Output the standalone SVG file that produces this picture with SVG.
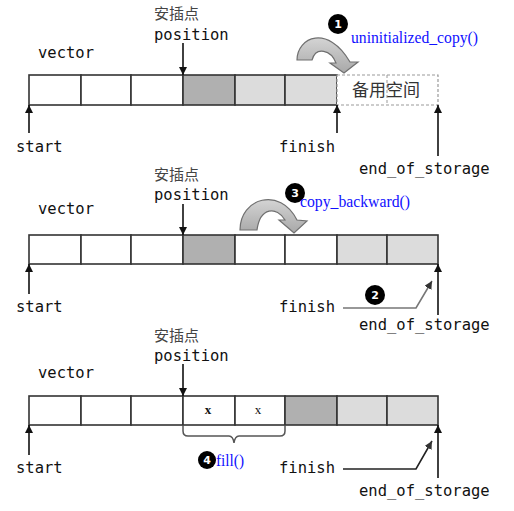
<svg xmlns="http://www.w3.org/2000/svg" width="514" height="511" viewBox="0 0 514 511">
<style>
.cell{stroke:#333;stroke-width:1.6}
.w{fill:#fff}.d{fill:#b0b0b0}.l{fill:#dcdcdc}
.mono{font-family:"DejaVu Sans Mono","Liberation Mono",monospace;font-size:15.5px;fill:#111}
.cjk{font-family:"Noto Sans CJK SC",sans-serif;font-size:15px;fill:#444}
.blue{font-family:"Liberation Serif",serif;font-size:16px;fill:#1010ff}
.ptr{stroke:#111;stroke-width:1.6;fill:none;marker-end:url(#ah)}
.curl{fill:url(#g);stroke:#707070;stroke-width:1.2}
.badge{fill:#000}
.bn{font-family:"DejaVu Sans",sans-serif;font-weight:bold;font-size:11px;fill:#fff;text-anchor:middle}
.x{font-family:"Liberation Serif",serif;font-size:13px;fill:#111;text-anchor:middle}
</style>
<defs>
<marker id="ah" viewBox="0 0 10 10" refX="10" refY="5" markerWidth="8" markerHeight="8" markerUnits="userSpaceOnUse" orient="auto"><path d="M0,0 L10,5 L0,10 z" fill="#111"/></marker>
<marker id="ahg" viewBox="0 0 10 10" refX="10" refY="5" markerWidth="8" markerHeight="8" markerUnits="userSpaceOnUse" orient="auto"><path d="M0,0 L10,5 L0,10 z" fill="#333"/></marker>
<linearGradient id="g" x1="0" y1="0" x2="0" y2="1"><stop offset="0" stop-color="#d4d4d4"/><stop offset="1" stop-color="#a8a8a8"/></linearGradient>
</defs>

<g id="row1">
<rect class="cell w" x="29" y="75" width="52" height="30"/>
<rect class="cell w" x="81" y="75" width="50" height="30"/>
<rect class="cell w" x="131" y="75" width="52" height="30"/>
<rect class="cell d" x="183" y="75" width="52" height="30"/>
<rect class="cell l" x="235" y="75" width="50" height="30"/>
<rect class="cell l" x="285" y="75" width="52" height="30"/>
<rect x="337" y="75" width="101" height="30" fill="#fff" stroke="#999" stroke-width="1.2" stroke-dasharray="3,2"/>
<line x1="387" y1="75" x2="387" y2="105" stroke="#999" stroke-width="1" stroke-dasharray="3,2"/>
<text x="352" y="96" font-family="'Noto Sans CJK SC',sans-serif" font-size="17" fill="#333">备用空间</text>
<text class="mono" x="38" y="58">vector</text>
<text class="cjk" x="154" y="19">安插点</text>
<text class="mono" x="154" y="40">position</text>
<text class="mono" x="16" y="152">start</text>
<text class="mono" x="279" y="152">finish</text>
<text class="mono" x="359" y="174">end_of_storage</text>
</g>

<g id="row2">
<rect class="cell w" x="29" y="235" width="52" height="29"/>
<rect class="cell w" x="81" y="235" width="50" height="29"/>
<rect class="cell w" x="131" y="235" width="52" height="29"/>
<rect class="cell d" x="183" y="235" width="52" height="29"/>
<rect class="cell w" x="235" y="235" width="50" height="29"/>
<rect class="cell w" x="285" y="235" width="52" height="29"/>
<rect class="cell l" x="337" y="235" width="50" height="29"/>
<rect class="cell l" x="387" y="235" width="51" height="29"/>
<text class="mono" x="38" y="214">vector</text>
<text class="cjk" x="154" y="180">安插点</text>
<text class="mono" x="154" y="200">position</text>
<text class="mono" x="16" y="312">start</text>
<text class="mono" x="279" y="312">finish</text>
<text class="mono" x="359" y="330">end_of_storage</text>
</g>

<g id="row3">
<rect class="cell w" x="29" y="396" width="52" height="29"/>
<rect class="cell w" x="81" y="396" width="50" height="29"/>
<rect class="cell w" x="131" y="396" width="52" height="29"/>
<rect class="cell w" x="183" y="396" width="52" height="29"/>
<rect class="cell w" x="235" y="396" width="50" height="29"/>
<rect class="cell d" x="285" y="396" width="52" height="29"/>
<rect class="cell l" x="337" y="396" width="50" height="29"/>
<rect class="cell l" x="387" y="396" width="51" height="29"/>
<text class="x" x="208" y="414" font-weight="bold">x</text>
<text class="x" x="258" y="414" font-size="12">x</text>
<text class="mono" x="38" y="378">vector</text>
<text class="cjk" x="154" y="341">安插点</text>
<text class="mono" x="154" y="361">position</text>
<text class="mono" x="16" y="473">start</text>
<text class="mono" x="279" y="473">finish</text>
<text class="mono" x="359" y="496">end_of_storage</text>
</g>

<g id="step1">
<path class="curl" d="M297 60 C297 37 328 24 350 62 L358 62 L344 73 L330 63 L336 63 C331 50 316 46 312 60 Z"/>
<circle class="badge" cx="338" cy="24" r="10"/>
<text class="bn" x="338" y="28">1</text>
<text class="blue" x="351" y="43" textLength="127" lengthAdjust="spacingAndGlyphs">uninitialized_copy()</text>
</g>

<g id="step3">
<path class="curl" d="M240 230 C240 198 280 186 297 220 L307 221 L294 233 L279 220 L285 220 C277 206 260 207 257 230 Z"/>
<circle class="badge" cx="295" cy="193" r="10"/>
<text class="bn" x="295" y="197">3</text>
<text class="blue" x="300" y="207" textLength="110" lengthAdjust="spacingAndGlyphs">copy_backward()</text>
</g>

<g id="step2">
<circle class="badge" cx="375" cy="295" r="10"/>
<text class="bn" x="375" y="299">2</text>
</g>

<g id="step4">
<path d="M183 425 L183 431 Q183 436 188 436 L229 436 Q233 436 234 443 Q235 436 239 436 L280 436 Q285 436 285 431 L285 425" fill="none" stroke="#555" stroke-width="1.5"/>
<circle class="badge" cx="207" cy="460" r="9"/>
<text class="bn" x="207" y="464">4</text>
<text class="blue" x="216" y="466" textLength="28" lengthAdjust="spacingAndGlyphs">fill()</text>
</g>

<g id="connectors">
<line class="ptr" x1="183" y1="43" x2="183" y2="75"/>
<line class="ptr" x1="29" y1="133" x2="29" y2="105"/>
<line class="ptr" x1="337" y1="133" x2="337" y2="105"/>
<line class="ptr" x1="438" y1="156" x2="438" y2="105"/>

<line class="ptr" x1="183" y1="204" x2="183" y2="235"/>
<line class="ptr" x1="29" y1="294" x2="29" y2="264"/>
<line class="ptr" x1="438" y1="315" x2="438" y2="264"/>
<polyline points="343,308 416,308 432,281" fill="none" stroke="#777" stroke-width="1.6" marker-end="url(#ahg)"/>

<line class="ptr" x1="183" y1="364" x2="183" y2="396"/>
<line class="ptr" x1="29" y1="455" x2="29" y2="425"/>
<line class="ptr" x1="438" y1="478" x2="438" y2="425"/>
<polyline points="343,469 416,469 432,441" fill="none" stroke="#222" stroke-width="1.6" marker-end="url(#ahg)"/>
</g>
</svg>
